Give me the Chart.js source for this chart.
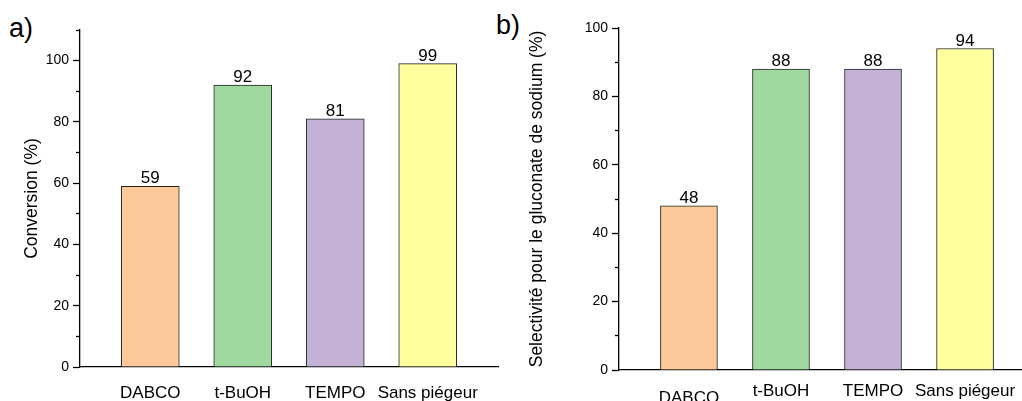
<!DOCTYPE html>
<html><head><meta charset="utf-8">
<script src="https://cdn.jsdelivr.net/npm/chart.js@4"></script>
<style>
html,body{margin:0;padding:0;width:1022px;height:401px;overflow:hidden;background:#fff;font-family:"Liberation Sans",Arial,sans-serif;}
.wrap{position:absolute;top:0;height:401px;}
.lab{position:absolute;font-size:27px;color:#000;line-height:1;}
</style></head><body>
<div class="lab" style="left:9px;top:15px">a)</div>
<div class="lab" style="left:496px;top:12px">b)</div>
<div class="wrap" style="left:0;width:515px"><canvas id="c1" width="515" height="401"></canvas></div>
<div class="wrap" style="left:520px;width:520px"><canvas id="c2" width="520" height="401"></canvas></div>
<script>
const categories = ['DABCO', 't-BuOH', 'TEMPO', 'Sans piégeur'];
const conversion = [59, 92, 81, 99];
const selectivity = [48, 88, 88, 94];
const barColors = ['#FDC998', '#A0D99F', '#C3B1D6', '#FFFF9F'];
const yTicksMajor = [0, 20, 40, 60, 80, 100];
const yTicksMinorA = [10, 30, 50, 70, 90, 110];
const yTicksMinorB = [10, 30, 50, 70, 90];

const F = '"Liberation Sans", Arial, sans-serif';

const valueLabels = {
  id: 'valueLabels',
  afterDatasetsDraw(chart) {
    const ctx = chart.ctx;
    const meta = chart.getDatasetMeta(0);
    const ds = chart.data.datasets[0];
    ctx.save();
    ctx.font = '17px ' + F;
    ctx.fillStyle = '#000';
    ctx.textAlign = 'center';
    ctx.textBaseline = 'alphabetic';
    meta.data.forEach((bar, i) => {
      ctx.fillText(String(ds.data[i].y), bar.x, bar.y - 3);
    });
    ctx.restore();
  }
};

function makeChart(id, values, cfg) {
  return new Chart(document.getElementById(id), {
    type: 'bar',
    data: {
      datasets: [{
        data: values.map((v, i) => ({ x: i + 1, y: v })),
        backgroundColor: barColors,
        borderColor: '#222',
        borderWidth: 1,
        barThickness: cfg.barW
      }]
    },
    options: {
      responsive: false,
      animation: false,
      layout: { padding: { top: cfg.top, right: cfg.right, left: 0, bottom: 0 } },
      plugins: { legend: { display: false }, tooltip: { enabled: false } },
      scales: {
        x: {
          type: 'linear', min: 0.24, max: 4.76, offset: false,
          afterBuildTicks: s => { s.ticks = categories.map((c, i) => ({ value: i + 1 })); },
          afterFit: s => { s.height = cfg.xH; },
          grid: { display: false },
          border: { display: true, color: '#000', width: 1.3 },
          ticks: {
            autoSkip: false, maxRotation: 0, minRotation: 0, padding: cfg.xPad, color: '#000',
            font: ctx => ({ family: F, size: 17, lineHeight: (cfg.dabcoLH && ctx.index === 0) ? cfg.dabcoLH : 1.2 }),
            callback: v => categories[Math.round(v) - 1]
          }
        },
        y: {
          min: 0, max: cfg.yMax, weight: 1,
          afterFit: s => { s.width = cfg.yW; },
          afterBuildTicks: s => { s.ticks = yTicksMajor.map(v => ({ value: v })); },
          grid: { drawOnChartArea: false, tickLength: 7, tickColor: '#000', tickWidth: 1.3 },
          border: { color: '#000', width: 1.3 },
          ticks: { padding: 4, color: '#000', font: { family: F, size: 14 } },
          title: { display: true, text: cfg.title, color: '#000', font: { family: F, size: 17.5 }, padding: { top: cfg.titlePad, bottom: 0 } }
        },
        yMinor: {
          axis: 'y', position: 'left', min: 0, max: cfg.yMax, weight: 0,
          afterFit: s => { s.width = 0; },
          afterBuildTicks: s => { s.ticks = cfg.minor.map(v => ({ value: v })); },
          grid: { drawOnChartArea: false, tickLength: 4, tickColor: '#000', tickWidth: 1.3 },
          border: { display: false },
          ticks: { display: false }
        }
      }
    },
    plugins: [valueLabels]
  });
}

makeChart('c1', conversion, {
  barW: 58, top: 30, right: 17, xH: 34, yW: 80, yMax: 110, xPad: 8,
  title: 'Conversion (%)', titlePad: 22, minor: yTicksMinorA
});
makeChart('c2', selectivity, {
  barW: 57, top: 28, right: 5, xH: 31, yW: 99, yMax: 100, xPad: 3, dabcoLH: 2.08,
  title: 'Selectivité pour le gluconate de sodium (%)', titlePad: 7, minor: yTicksMinorB
});
</script>
</body></html>
